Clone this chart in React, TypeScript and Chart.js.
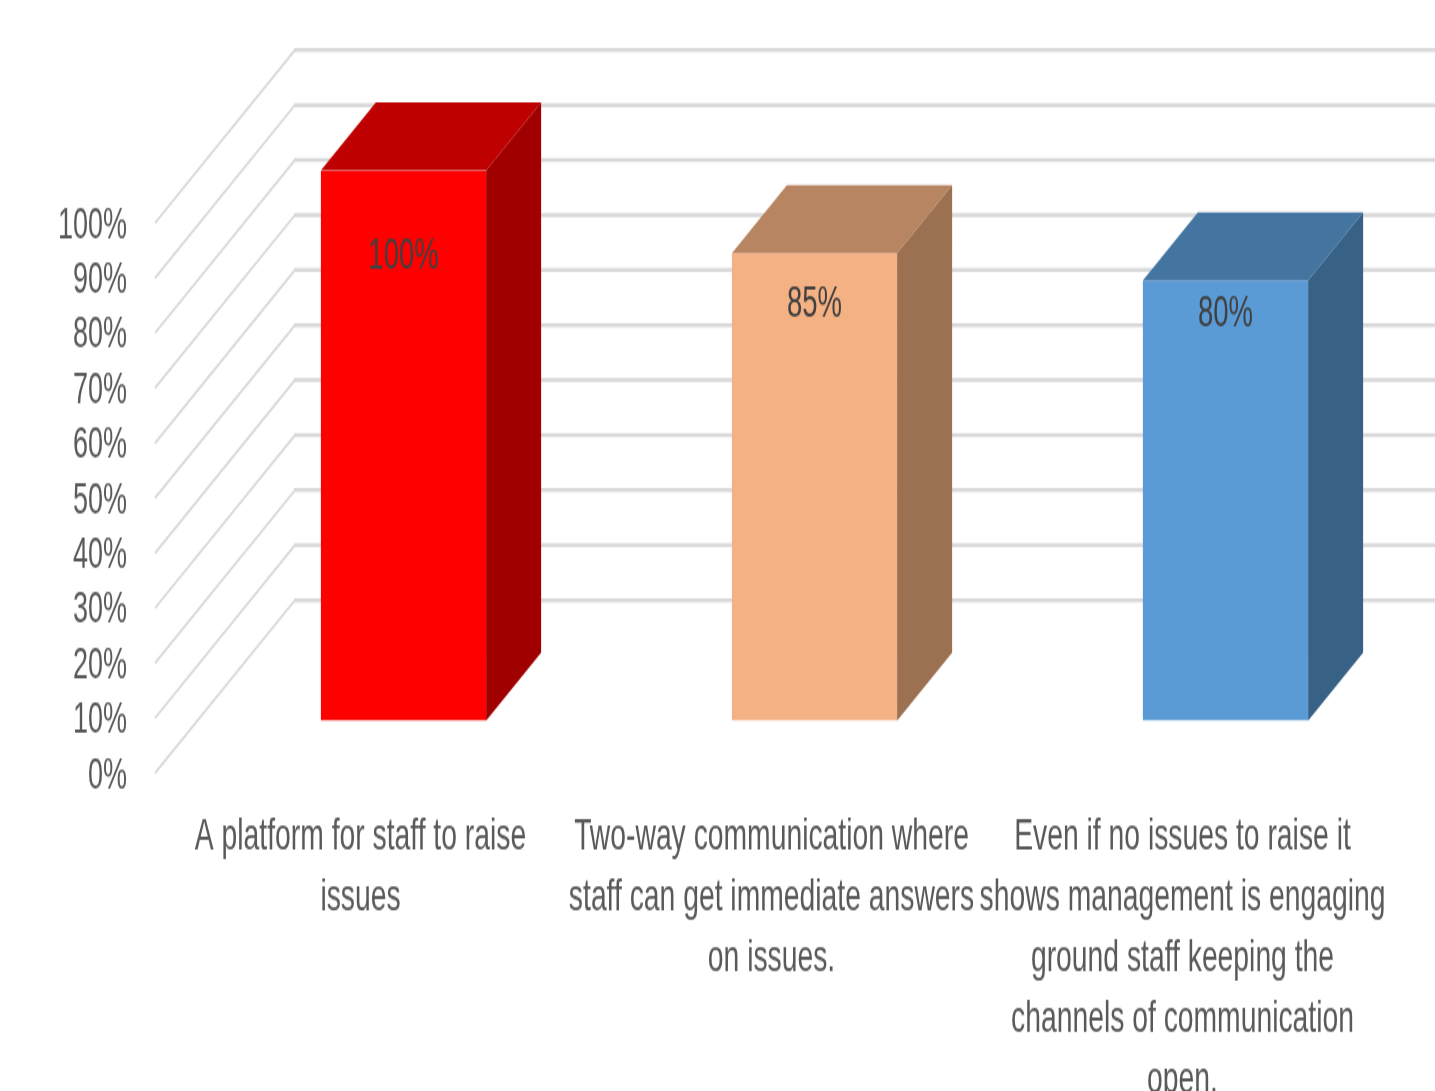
import React, { useEffect, useRef } from "react";
import { Chart, registerables } from "chart.js";

Chart.register(...registerables);

const categories: (string | string[])[] = [
  ["A platform for staff to raise", "issues"],
  ["Two-way communication where", "staff can get immediate answers", "on issues."],
  ["Even if no issues to raise it", "shows management is engaging", "ground staff keeping the", "channels of communication", "open."],
];
const shares = [100, 85, 80];
const frontColors = ["#ff0000", "#f4b183", "#5b9bd5"];
const topColors = ["#bf0000", "#b88562", "#4475a1"];
const sideColors = ["#a00000", "#9b7152", "#376286"];

const WIDTH = 1435;
const HEIGHT = 1091;
// The canvas is drawn short and stretched tall, giving the upright, condensed lettering.
const STRETCH = 1.6;
const FONT = "'Liberation Sans Narrow', 'Liberation Sans', sans-serif";
const GRID = "#d9d9d9";
const v = (px: number) => px / STRETCH;

const AXIS_LIFT = v(3);
const WALL_DX = 140;
const WALL_DY = v(173);
const BAR_SHIFT_X = 43;
const BAR_SHIFT_Y = v(55.5);
const BAR_DX = 55;
const BAR_DY = v(68);
const LABEL_DROP = [v(85.5), v(51.5), v(33.5)];

// Receding wall: a diagonal from each tick on the axis, then a horizontal to the page edge.
const wallPlugin = {
  id: "wall",
  beforeDatasetsDraw(chart: Chart) {
    const { ctx, scales } = chart;
    const yScale = scales.y;
    const left = chart.chartArea.left;
    ctx.save();
    ctx.strokeStyle = GRID;
    ctx.lineCap = "butt";
    for (const tick of yScale.ticks) {
      const y = yScale.getPixelForValue(tick.value) - AXIS_LIFT;
      ctx.lineWidth = 1.8;
      ctx.beginPath();
      ctx.moveTo(left, y);
      ctx.lineTo(left + WALL_DX, y - WALL_DY);
      ctx.stroke();
      ctx.lineWidth = v(4);
      ctx.beginPath();
      ctx.moveTo(left + WALL_DX - 1, y - WALL_DY);
      ctx.lineTo(WIDTH, y - WALL_DY);
      ctx.stroke();
    }
    ctx.restore();
    // Bars stand part way along the floor, in front of the wall.
    ctx.save();
    ctx.translate(BAR_SHIFT_X, -BAR_SHIFT_Y);
  },
  afterDatasetsDraw(chart: Chart) {
    const { ctx } = chart;
    const bars = chart.getDatasetMeta(0).data as any[];
    bars.forEach((bar, i) => {
      const l = bar.x - bar.width / 2;
      const r = bar.x + bar.width / 2;
      ctx.fillStyle = topColors[i];
      ctx.beginPath();
      ctx.moveTo(l, bar.y);
      ctx.lineTo(l + BAR_DX, bar.y - BAR_DY);
      ctx.lineTo(r + BAR_DX, bar.y - BAR_DY);
      ctx.lineTo(r, bar.y);
      ctx.closePath();
      ctx.fill();
      ctx.fillStyle = sideColors[i];
      ctx.beginPath();
      ctx.moveTo(r, bar.y);
      ctx.lineTo(r + BAR_DX, bar.y - BAR_DY);
      ctx.lineTo(r + BAR_DX, bar.base - BAR_DY);
      ctx.lineTo(r, bar.base);
      ctx.closePath();
      ctx.fill();
      ctx.fillStyle = "#404040";
      ctx.font = `27.5px ${FONT}`;
      ctx.textAlign = "center";
      ctx.textBaseline = "middle";
      ctx.fillText(`${shares[i]}%`, bar.x, bar.y + LABEL_DROP[i]);
    });
    ctx.restore();
  },
};

export default function App() {
  const ref = useRef<HTMLCanvasElement>(null);

  useEffect(() => {
    const canvas = ref.current!;
    const chart = new Chart(canvas, {
      type: "bar",
      data: {
        labels: categories as any,
        datasets: [
          {
            data: shares,
            backgroundColor: frontColors,
            borderWidth: 0,
            categoryPercentage: 1,
            barPercentage: 0.402,
          },
        ],
      },
      options: {
        responsive: false,
        animation: false,
        devicePixelRatio: 1,
        layout: { padding: { top: v(226), right: 47, bottom: 0, left: 0 } },
        plugins: { legend: { display: false }, tooltip: { enabled: false } },
        scales: {
          x: {
            grid: { display: false, drawTicks: false },
            border: { display: false },
            afterFit: (scale: any) => {
              scale.height = v(HEIGHT - 776);
              scale.paddingLeft = 0;
              scale.paddingRight = 0;
            },
            ticks: {
              autoSkip: false,
              maxRotation: 0,
              minRotation: 0,
              padding: v(30),
              color: "#595959",
              font: { family: FONT, size: 28.3, lineHeight: v(61) / 28.3 },
            },
          },
          y: {
            min: 0,
            max: 100,
            grid: { display: false, drawTicks: false },
            border: { display: false },
            afterFit: (scale: any) => {
              scale.width = 155;
            },
            ticks: {
              stepSize: 10,
              autoSkip: false,
              padding: 28,
              color: "#595959",
              font: { family: FONT, size: 27 },
              callback: (value: any) => `${value}%`,
            },
          },
        },
      },
      plugins: [wallPlugin],
    } as any);
    canvas.style.width = `${WIDTH}px`;
    canvas.style.height = `${HEIGHT}px`;
    return () => chart.destroy();
  }, []);

  return (
    <div style={{ position: "absolute", left: 0, top: 0, width: WIDTH, height: HEIGHT, overflow: "hidden", background: "#fff" }}>
      <canvas ref={ref} width={WIDTH} height={Math.round(HEIGHT / STRETCH)} />
    </div>
  );
}
